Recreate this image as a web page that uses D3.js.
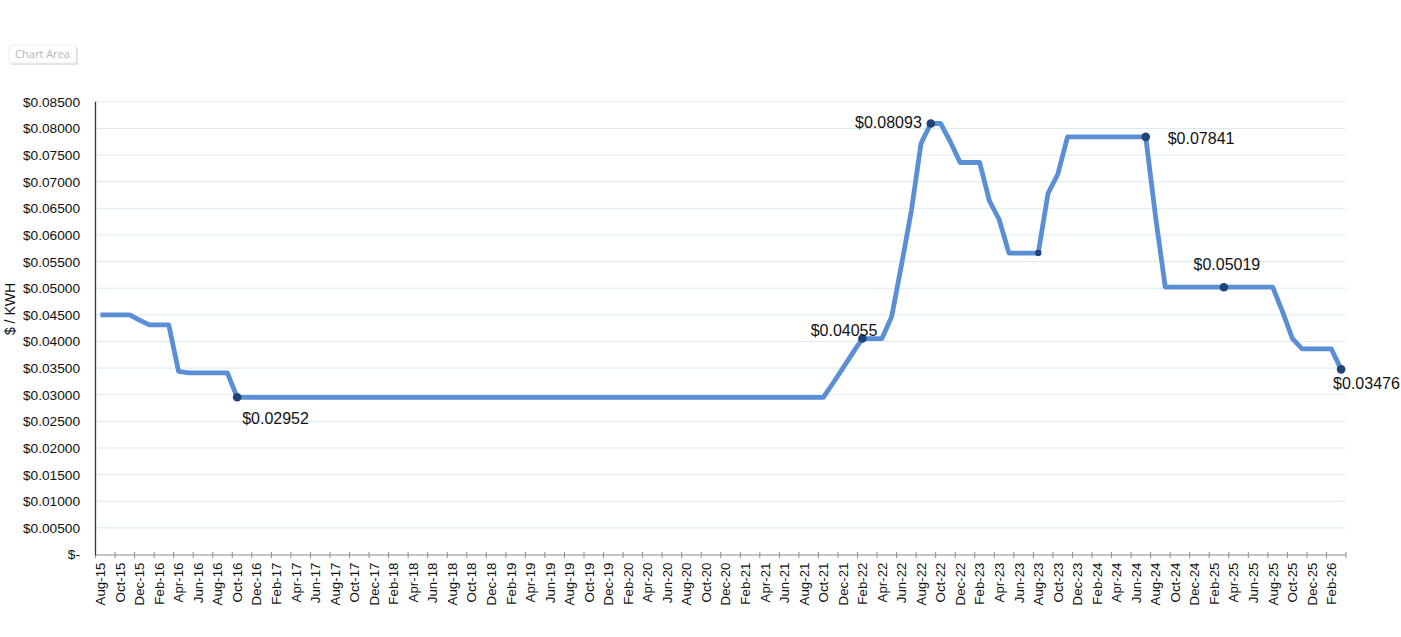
<!DOCTYPE html>
<html>
<head>
<meta charset="utf-8">
<script src="https://cdn.jsdelivr.net/npm/d3@7"></script>
<style>
  html, body { margin: 0; padding: 0; background: #fff; }
  svg { display: block; font-family: "Liberation Sans", Arial, sans-serif; }
</style>
</head>
<body>
<svg id="chart" width="1401" height="637"></svg>
<script>
// ---------------- data ----------------
const startMonth = new Date(2015, 7, 1);   // Aug-15
const endMonth = new Date(2026, 3, 1);     // exclusive (last = Mar-26)
const months = d3.timeMonth.range(startMonth, endMonth);
const fmtMonth = d3.timeFormat("%b-%y");
const categories = months.map(fmtMonth);

const rates = [
  0.04500, 0.04500, 0.04500, 0.04500, 0.04400, 0.04310, 0.04310, 0.04310,
  0.03440, 0.03410, 0.03410, 0.03410, 0.03410, 0.03410,
  0.02952, 0.02952, 0.02952, 0.02952, 0.02952, 0.02952, 0.02952, 0.02952,
  0.02952, 0.02952, 0.02952, 0.02952, 0.02952, 0.02952, 0.02952, 0.02952,
  0.02952, 0.02952, 0.02952, 0.02952, 0.02952, 0.02952, 0.02952, 0.02952,
  0.02952, 0.02952, 0.02952, 0.02952, 0.02952, 0.02952, 0.02952, 0.02952,
  0.02952, 0.02952, 0.02952, 0.02952, 0.02952, 0.02952, 0.02952, 0.02952,
  0.02952, 0.02952, 0.02952, 0.02952, 0.02952, 0.02952, 0.02952, 0.02952,
  0.02952, 0.02952, 0.02952, 0.02952, 0.02952, 0.02952, 0.02952, 0.02952,
  0.02952, 0.02952, 0.02952, 0.02952, 0.02952,
  0.03220, 0.03500, 0.03780, 0.04055, 0.04055, 0.04055, 0.04470, 0.05440,
  0.06440, 0.07720, 0.08093, 0.08093, 0.07750, 0.07360, 0.07360, 0.07360,
  0.06640, 0.06290, 0.05660, 0.05660, 0.05660, 0.05660, 0.06780, 0.07140,
  0.07841, 0.07841, 0.07841, 0.07841, 0.07841, 0.07841, 0.07841, 0.07841,
  0.07841, 0.06350,
  0.05019, 0.05019, 0.05019, 0.05019, 0.05019, 0.05019, 0.05019, 0.05019,
  0.05019, 0.05019, 0.05019, 0.05019,
  0.04560, 0.04060, 0.03860, 0.03860, 0.03860, 0.03860, 0.03476
];

const yTicks = [0, 0.005, 0.01, 0.015, 0.02, 0.025, 0.03, 0.035, 0.04, 0.045,
                0.05, 0.055, 0.06, 0.065, 0.07, 0.075, 0.08, 0.085];
const yTitle = "$ / KWH";

// marked points (category label) and whether they carry a data label
const markedPoints = ["Oct-16", "Feb-22", "Sep-22", "Aug-23", "Jul-24", "Mar-25", "Mar-26"];
const labelledPoints = ["Oct-16", "Feb-22", "Sep-22", "Jul-24", "Mar-25", "Mar-26"];

// ---------------- layout ----------------
const svg = d3.select("#chart");
const plot = { left: 95.5, right: 1346, top: 101.8, bottom: 554.5 };

const x = d3.scaleBand().domain(d3.range(categories.length))
  .range([plot.left, plot.right]).paddingInner(0).paddingOuter(0);
const bw = x.bandwidth();
const cx = i => x(i) + bw / 2;
const y = d3.scaleLinear().domain([0, 0.085]).range([plot.bottom, plot.top]);

const fmtMoney = v => v === 0 ? "$-" : "$" + d3.format(".5f")(v);

// gridlines
svg.append("g").selectAll("line").data(yTicks.filter(v => v > 0)).join("line")
  .attr("x1", plot.left).attr("x2", plot.right)
  .attr("y1", d => y(d)).attr("y2", d => y(d))
  .attr("stroke", "#dbeaf3").attr("stroke-width", 1);

// y labels
svg.append("g").selectAll("text").data(yTicks).join("text")
  .attr("x", 80).attr("y", d => y(d)).attr("dy", "0.36em")
  .attr("text-anchor", "end").attr("font-size", "13.7px").attr("fill", "#111")
  .text(fmtMoney);

// y title
svg.append("text")
  .attr("transform", `translate(15,309) rotate(-90)`)
  .attr("text-anchor", "middle").attr("font-size", "14px").attr("fill", "#111")
  .text(yTitle);

// x axis line + cross ticks every 2 categories
svg.append("line").attr("x1", plot.left).attr("x2", plot.right)
  .attr("y1", plot.bottom + 0.5).attr("y2", plot.bottom + 0.5)
  .attr("stroke", "#8c8c8c").attr("stroke-width", 1);
const tickIdx = d3.range(0, categories.length + 1, 2);
svg.append("g").selectAll("line").data(tickIdx).join("line")
  .attr("x1", d => d < categories.length ? x(d) : plot.right)
  .attr("x2", d => d < categories.length ? x(d) : plot.right)
  .attr("y1", plot.bottom - 2.5).attr("y2", plot.bottom + 3.5)
  .attr("stroke", "#8c8c8c").attr("stroke-width", 1);

// x labels
svg.append("g").selectAll("text").data(d3.range(0, categories.length, 2)).join("text")
  .attr("transform", d => `translate(${cx(d)},${plot.bottom + 8}) rotate(-90)`)
  .attr("text-anchor", "end").attr("dy", "0.36em")
  .attr("font-size", "13.3px").attr("fill", "#111")
  .text(d => categories[d]);

// y axis line
svg.append("line").attr("x1", plot.left).attr("x2", plot.left)
  .attr("y1", plot.top).attr("y2", plot.bottom + 0.5)
  .attr("stroke", "#1f3a60").attr("stroke-width", 1.3);

// line
const line = d3.line().x((d, i) => cx(i)).y(d => y(d)).curve(d3.curveLinear);
svg.append("path").datum(rates).attr("d", line)
  .attr("fill", "none").attr("stroke", "#5a8fd6").attr("stroke-width", 4.8)
  .attr("stroke-linejoin", "round");

// markers
const markIdx = markedPoints.map(c => categories.indexOf(c));
svg.append("g").selectAll("circle").data(markIdx).join("circle")
  .attr("cx", d => cx(d)).attr("cy", d => y(rates[d]))
  .attr("r", d => categories[d] === "Aug-23" ? 3.2 : 4.3)
  .attr("fill", "#1f4477");

// data labels (offsets relative to the point)
const labelStyle = {
  "Oct-16": { dx: 5, dy: 21, anchor: "start" },
  "Feb-22": { dx: 15, dy: -8, anchor: "end" },
  "Sep-22": { dx: -9, dy: -1, anchor: "end" },
  "Jul-24": { dx: 22, dy: 1.5, anchor: "start" },
  "Mar-25": { dx: 3, dy: -23, anchor: "middle" },
  "Mar-26": { dx: -8, dy: 14, anchor: "start" }
};
const labIdx = labelledPoints.map(c => categories.indexOf(c));
svg.append("g").selectAll("text").data(labIdx).join("text")
  .attr("x", d => cx(d) + labelStyle[categories[d]].dx)
  .attr("y", d => y(rates[d]) + labelStyle[categories[d]].dy)
  .attr("dy", "0.36em")
  .attr("text-anchor", d => labelStyle[categories[d]].anchor)
  .attr("font-size", "16px").attr("fill", "#111")
  .text(d => fmtMoney(rates[d]));

// "Chart Area" hover tag
const tag = svg.append("g");
tag.append("rect").attr("x", 11).attr("y", 47).attr("width", 67).attr("height", 18)
  .attr("fill", "#e2e2e2").attr("rx", 2);
tag.append("rect").attr("x", 9).attr("y", 45).attr("width", 67).attr("height", 18)
  .attr("fill", "#fff").attr("stroke", "#ececec").attr("rx", 2);
tag.append("text").attr("x", 42.5).attr("y", 54).attr("dy", "0.36em")
  .attr("text-anchor", "middle").attr("font-size", "11px").attr("fill", "#b5b5b5")
  .attr("font-family", "'Open Sans', 'DejaVu Sans', sans-serif")
  .text("Chart Area");
</script>
</body>
</html>
